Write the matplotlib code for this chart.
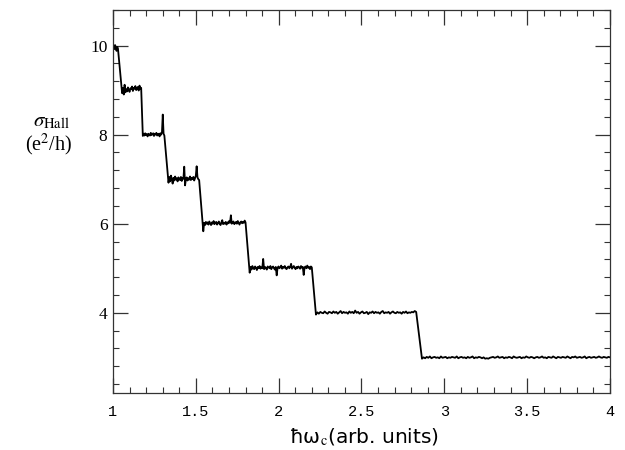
import numpy as np
import matplotlib
matplotlib.use("Agg")
import matplotlib.pyplot as plt
from matplotlib.ticker import MultipleLocator

# plateau edges (hbar*omega_c) and hand-read sigma_Hall values on each plateau
plateau_edges = [
    (1.000, 1.030),
    (1.055, 1.170),
    (1.180, 1.310),
    (1.335, 1.520),
    (1.545, 1.800),
    (1.825, 2.200),
    (2.225, 2.830),
    (2.865, 4.000),
]

level_10 = [10.02, 10.0, 9.92, 10.01, 9.95, 9.88, 9.97, 9.93]
level_9 = [8.93, 9.05, 8.90, 9.12, 8.95, 9.02, 8.97, 9.06, 9.0, 8.96, 9.04, 9.02,
           9.08, 8.98, 9.05, 9.03, 9.09, 9.0, 9.04, 9.07, 8.99, 9.1, 9.03, 9.05]
level_8 = [7.97, 8.02, 7.98, 8.03, 7.99, 8.01, 7.96, 8.02, 8.0, 7.98, 8.04, 7.99,
           8.01, 8.03, 7.97, 8.02, 8.0, 8.04, 7.98, 8.01, 8.02, 7.96, 8.03, 8.0,
           8.05, 8.45, 8.02, 7.98]
level_7 = [6.92, 7.05, 6.95, 7.08, 7.0, 6.9, 7.03, 6.97, 7.06, 6.99, 7.02, 6.95,
           7.04, 7.0, 6.98, 7.05, 6.96, 7.03, 7.01, 7.28, 6.86, 7.0, 7.04, 6.97,
           7.02, 6.99, 7.06, 6.98, 7.03, 7.0, 7.05, 6.97, 7.02, 7.08, 7.29, 7.04,
           7.0, 6.98]
level_6 = [5.83, 6.02, 5.97, 6.04, 6.0, 6.03, 5.98, 6.05, 6.01, 5.97, 6.03, 6.0,
           6.06, 5.99, 6.02, 6.04, 5.98, 6.01, 6.05, 6.0, 5.97, 6.03, 6.08, 5.99,
           6.02, 6.0, 6.04, 5.98, 6.03, 6.01, 6.06, 6.02, 6.19, 6.0, 6.03, 6.05,
           5.99, 6.02, 6.04, 6.0, 6.06, 6.02, 5.98, 6.03, 6.05, 6.01, 6.04, 6.02,
           6.07, 6.03]
level_5 = [4.90, 5.03, 4.97, 5.05, 5.0, 4.98, 5.04, 5.01, 4.96, 5.03, 5.0, 5.05,
           4.99, 5.02, 5.0, 5.21, 4.98, 5.03, 5.01, 4.97, 5.04, 5.02, 5.0, 5.05,
           4.98, 5.02, 5.04, 5.0, 4.97, 5.03, 4.84, 5.01, 5.04, 5.0, 5.02, 5.06,
           4.99, 5.03, 5.01, 5.05, 5.0, 4.98, 5.02, 5.04, 5.0, 5.03, 5.1, 4.99,
           5.02, 5.05, 5.01, 4.98, 5.03, 5.0, 5.04, 5.02, 4.99, 5.05, 5.01, 5.03,
           4.85, 5.02, 5.04, 5.0, 5.06, 5.01, 5.03, 4.98, 5.04, 5.02]
level_4 = [3.96, 4.01, 3.98, 4.02, 4.0, 3.99, 4.03, 4.0, 3.98, 4.02, 4.01, 3.99,
           4.03, 4.0, 4.02, 3.98, 4.01, 4.04, 3.99, 4.02, 4.0, 4.01, 3.98, 4.03,
           4.0, 4.02, 3.99, 4.05, 4.0, 4.02, 3.98, 4.01, 4.03, 3.99, 4.0, 4.02,
           3.97, 4.01, 4.0, 4.03, 3.99, 4.02, 4.0, 4.01, 3.98, 4.02, 4.04, 3.99,
           4.01, 4.0, 4.02, 3.98, 4.01, 4.03, 4.0, 3.99, 4.02, 4.0, 4.01, 3.98,
           4.02, 4.0, 4.03, 3.99, 4.01, 4.0, 4.02, 4.01, 4.04, 4.02]
level_3 = [2.97, 3.0, 2.98, 3.01, 2.99, 3.02, 2.98, 3.0, 3.01, 2.99,
           3.0, 2.98, 3.02, 2.99, 3.0, 3.01, 2.98, 3.0, 2.99, 3.01,
           3.0, 2.99, 3.02, 2.98, 3.0, 3.01, 2.99, 3.0, 2.98, 3.01,
           2.99, 3.0, 3.02, 2.98, 3.0, 2.99, 3.01, 3.0, 2.98, 3.0,
           2.97, 2.98, 2.97, 2.99, 3.0, 3.01, 2.99, 3.0, 3.02, 2.99,
           3.0, 3.01, 2.98, 3.0, 2.99, 3.01, 3.0, 2.98, 3.02, 3.0,
           2.99, 3.0, 3.01, 2.98, 3.0, 2.99, 3.02, 3.0, 2.99, 3.01,
           3.0, 2.98, 3.0, 3.01, 2.99, 3.0, 3.02, 2.99, 3.0, 2.98,
           3.01, 3.0, 2.99, 3.02, 3.0, 2.98, 3.01, 3.0, 2.99, 3.01,
           3.0, 2.99, 3.02, 3.0, 2.98, 3.01, 3.0, 3.02, 2.99, 3.0,
           3.01, 2.99, 3.0, 3.02, 2.98, 3.0, 3.01, 2.99, 3.0, 3.01,
           2.99, 3.0, 3.02, 3.0, 2.99, 3.01, 3.0, 2.99, 3.01, 3.0]

levels = [level_10, level_9, level_8, level_7, level_6, level_5, level_4, level_3]

x_ticks = [1, 1.5, 2, 2.5, 3, 3.5, 4]
x_tick_labels = ["1", "1.5", "2", "2.5", "3", "3.5", "4"]
y_ticks = [4, 6, 8, 10]

# sample points spread evenly across each plateau; the steps join consecutive plateaus
xs, ys = [], []
for (x0, x1), vals in zip(plateau_edges, levels):
    xs.extend(np.linspace(x0, x1, len(vals)))
    ys.extend(vals)

plt.rcParams["mathtext.fontset"] = "stix"

fig = plt.figure(figsize=(6.25, 4.5), dpi=100)
ax = fig.add_axes([0.1808, 0.1267, 0.7952, 0.8513])

ax.plot(xs, ys, color="black", lw=1.3)

ax.set_xlim(1, 4)
ax.set_ylim(2.2, 10.8)
ax.set_xticks(x_ticks)
ax.set_xticklabels(x_tick_labels, family="Liberation Mono", fontsize=11)
ax.xaxis.set_minor_locator(MultipleLocator(0.1))
ax.set_yticks(y_ticks)
ax.set_yticklabels([str(v) for v in y_ticks], family="Liberation Serif", fontsize=12.5)
ax.yaxis.set_minor_locator(MultipleLocator(0.4))

ax.tick_params(which="both", direction="in", top=True, right=True, color="#333")
ax.tick_params(which="major", length=11, width=0.9)
ax.tick_params(which="minor", length=4.5, width=0.8)
ax.tick_params(axis="x", which="major", pad=9)
ax.tick_params(axis="y", which="major", pad=4)
for s in ax.spines.values():
    s.set_color("#333")
    s.set_linewidth(0.9)

fig.text(52 / 625, 1 - 121 / 450, r"$\sigma_{\rm Hall}$", fontsize=15,
         ha="center", va="center")
fig.text(49 / 625, 1 - 145 / 450, "(e$^{2}$/h)", family="Liberation Serif",
         fontsize=14.5, ha="center", va="center")
fig.text(364 / 625, 1 - 437 / 450, "ħω$_{\\rm c}$(arb. units)", family="DejaVu Sans",
         fontsize=14.5, ha="center", va="center")

fig.savefig("out.png", dpi=100)
